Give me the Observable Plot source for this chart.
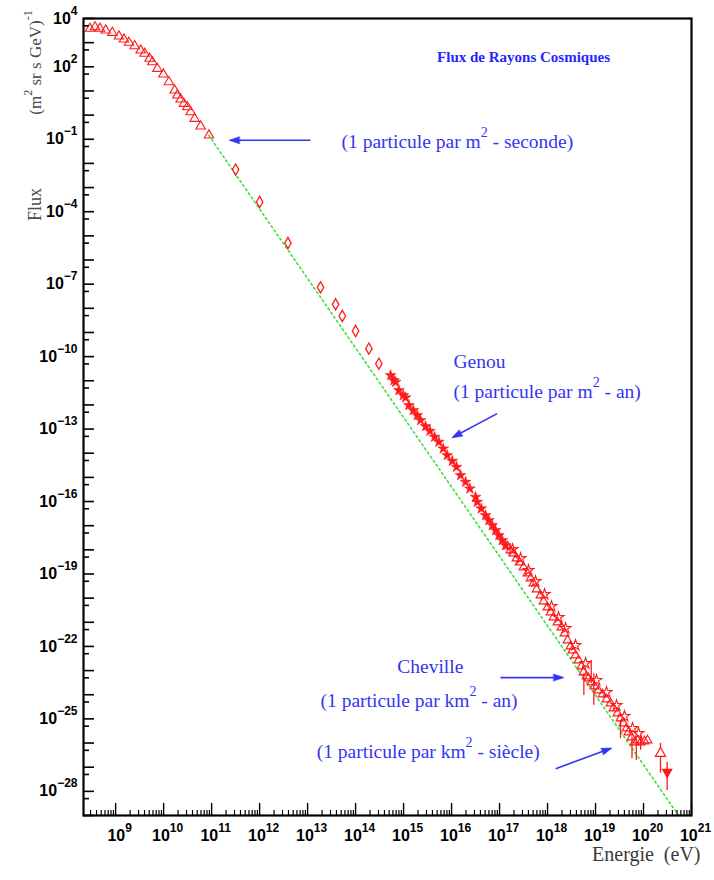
<!DOCTYPE html>
<html><head><meta charset="utf-8">
<script src="https://cdn.jsdelivr.net/npm/d3@7"></script>
<script src="https://cdn.jsdelivr.net/npm/@observablehq/plot@0.6"></script>
<style>
html,body{margin:0;padding:0;background:#fff;}
#chart svg{display:block;}
</style></head><body><div id="chart"></div>
<script>
// ---- data (log10 of energy in eV, log10 of flux) ----
const triLogE = [8.465, 8.569, 8.673, 8.792, 8.931, 9.069, 9.173, 9.277, 9.396, 9.521, 9.604, 9.708, 9.765, 9.869, 9.994, 10.110, 10.229, 10.285, 10.354, 10.423, 10.494, 10.563, 10.646, 10.771, 10.944];
const triLogF = [3.582, 3.648, 3.582, 3.511, 3.416, 3.263, 3.137, 3.002, 2.861, 2.683, 2.547, 2.340, 2.199, 1.925, 1.689, 1.371, 1.027, 0.820, 0.654, 0.476, 0.335, 0.128, -0.145, -0.464, -0.836];

const diaLogE = [11.5, 12.0, 12.59, 13.27, 13.583, 13.723, 14.0, 14.277, 14.485];
const diaLogF = [-2.257, -3.598, -5.296, -7.131, -7.834, -8.319, -8.94, -9.669, -10.29];

const starLogE = [14.729, 14.798, 14.833, 14.902, 14.994, 15.042, 15.110, 15.202, 15.285, 15.354, 15.458, 15.548, 15.646, 15.735, 15.827, 15.910, 16.015, 16.104, 16.188, 16.292, 16.381, 16.5, 16.535, 16.619, 16.708, 16.777, 16.848, 16.917, 16.985, 17.056, 17.125];
const starLogF = [-10.774, -10.981, -11.052, -11.395, -11.602, -11.698, -12.016, -12.224, -12.431, -12.638, -12.886, -13.081, -13.329, -13.536, -13.81, -14.087, -14.323, -14.571, -14.915, -15.193, -15.466, -15.814, -16.021, -16.294, -16.571, -16.778, -16.986, -17.193, -17.4, -17.607, -17.814];

const openTriLogE = [17.167, 17.229, 17.292, 17.354, 17.417, 17.5, 17.583, 17.646, 17.708, 17.771, 17.854, 17.917, 18.0, 18.063, 18.125, 18.208, 18.292, 18.354, 18.417, 18.479, 18.521, 18.583, 18.646, 18.708, 18.75, 18.813, 18.854, 18.917, 18.979, 19.063, 19.146, 19.229, 19.313, 19.375, 19.458, 19.521, 19.583, 19.646, 19.688, 19.75, 19.813, 19.875, 19.938, 20.021, 20.083];
const openTriLogF = [-17.855, -18.021, -18.145, -18.352, -18.518, -18.724, -18.973, -19.18, -19.387, -19.636, -19.884, -20.133, -20.381, -20.588, -20.795, -21.002, -21.209, -21.458, -21.747, -21.996, -22.161, -22.368, -22.576, -22.824, -23.072, -23.238, -23.321, -23.487, -23.652, -23.817, -23.983, -24.19, -24.356, -24.563, -24.77, -24.977, -25.184, -25.391, -25.557, -25.764, -25.971, -25.888, -25.971, -25.93, -25.888];

const openCircLogE = [17.271, 17.438, 17.604, 17.75, 17.938, 18.083, 18.229, 18.375, 18.583, 18.792, 19.021, 19.229, 19.438, 19.604, 19.771, 19.896];
const openCircLogF = [-17.98, -18.352, -18.849, -19.305, -19.843, -20.34, -20.795, -21.25, -21.95, -22.7, -23.40, -23.90, -24.44, -24.89, -25.39, -25.6];

const errLogE  = [18.757, 18.91, 18.965, 19.52, 19.76, 19.85, 19.94, 20.354, 20.493];
const errLogLo = [-24.03, -23.54, -24.44, -25.82, -26.65, -26.72, -26.3, -27.25, -27.96];
const errLogHi = [-23.13, -22.58, -23.13, -25.06, -25.75, -25.82, -25.68, -26.01, -26.79];

const hiTriLogE = [20.354];
const hiTriLogF = [-26.43];
const limitLogE = [20.493];
const limitLogF = [-27.2];

const fitLogE = [10.94, 20.73];
const fitLogF = [-0.84, -29];

const arrowLogE1 = [13.06, 16.95, 17.02, 18.17];
const arrowLogF1 = [-1.043, -12.36, -23.29, -27.06];
const arrowLogE2 = [11.40, 16.035, 18.306, 19.31];
const arrowLogF2 = [-1.043, -13.33, -23.29, -26.23];

const noteText = ["(1 particule par m^{2} - seconde)", "Genou", "(1 particule par m^{2} - an)", "Cheville", "(1 particule par km^{2} - an)", "(1 particule par km^{2} - siècle)"];
const noteLogE = [13.708, 16.04, 16.04, 14.869, 13.27, 13.19];
const noteLogF = [-1.09, -10.22, -11.47, -22.85, -24.24, -26.38];

const titleText = "Flux de Rayons Cosmiques";
const titleLogE = 17.5;
const titleLogF = 2.39;

const xLabelExps = [9, 10, 11, 12, 13, 14, 15, 16, 17, 18, 19, 20, 21];
const yLabelExps = [4, 2, -1, -4, -7, -10, -13, -16, -19, -22, -25, -28];
const yTitleMain = "Flux";
const yTitleUnit = "(m^{2} sr s GeV)^{-1}";
const xTitle = "Energie\u00a0\u00a0(eV)";

// ---- tables ----
const pts = (le, lf) => le.map((e, i) => ({E: 10 ** e, F: 10 ** lf[i]}));
const tri = pts(triLogE, triLogF);
const dia = pts(diaLogE, diaLogF);
const star = pts(starLogE, starLogF);
const openTri = pts(openTriLogE, openTriLogF);
const openCirc = pts(openCircLogE, openCircLogF);
const hiTri = pts(hiTriLogE, hiTriLogF);
const limit = pts(limitLogE, limitLogF);
const fit = pts(fitLogE, fitLogF);
const errs = errLogE.map((e, i) => ({E: 10 ** e, lo: 10 ** errLogLo[i], hi: 10 ** errLogHi[i]}));
const arrows = arrowLogE1.map((e, i) => ({x1: 10 ** e, y1: 10 ** arrowLogF1[i], x2: 10 ** arrowLogE2[i], y2: 10 ** arrowLogF2[i]}));
const notes = noteText.map((t, i) => ({t, E: 10 ** noteLogE[i], F: 10 ** noteLogF[i]}));

const xMajor = d3.range(9, 22).map(e => 10 ** e);
const xMinor = [];
for (let e = 8; e <= 20; e++) for (let m = 2; m <= 9; m++) { const v = m * 10 ** e; if (v > 10 ** 8.33 && v < 1e21) xMinor.push(v); }
const yMajor = d3.range(-29, 5).map(e => 10 ** e);
const yMinor = d3.range(-28, 5).map(e => 5 * 10 ** (e - 1));

const W = 714, H = 880, mL = 83, mR = 23, mT = 18, mB = 65;
const innerW = W - mL - mR, innerH = H - mT - mB;
const RED = "#ff1a1a", BLUE = "#3434f4";
const SANS = "Liberation Sans, Arial, Helvetica, sans-serif";
const SERIF = "Liberation Serif, Times New Roman, serif";

const triangleDown = {
  draw(context, size) {
    const y = -Math.sqrt(size / (Math.sqrt(3) * 3));
    context.moveTo(0, -y * 2);
    context.lineTo(-Math.sqrt(3) * y, y);
    context.lineTo(Math.sqrt(3) * y, y);
    context.closePath();
  }
};

const chart = Plot.plot({
  width: W, height: H,
  marginLeft: mL, marginRight: mR, marginTop: mT, marginBottom: mB,
  style: {background: "white", fontFamily: SANS},
  x: {type: "log", domain: [10 ** 8.33, 1e21], axis: null},
  y: {type: "log", domain: [1e-29, 1e4], axis: null},
  marks: [
    Plot.line(fit, {x: "E", y: "F", stroke: "#3fe03f", strokeWidth: 1.6, strokeDasharray: "2,3"}),
    Plot.ruleX(errs, {x: "E", y1: "lo", y2: "hi", stroke: RED, strokeWidth: 1.3}),
    Plot.dot(tri, {x: "E", y: "F", symbol: "triangle", r: 3.5, stroke: RED, fill: "none", strokeWidth: 1.1}),
    Plot.dot(dia, {x: "E", y: "F", symbol: "diamond", r: 3.4, stroke: RED, fill: "none", strokeWidth: 1.3}),
    Plot.dot(star, {x: "E", y: "F", symbol: "star", r: 3.4, stroke: RED, fill: RED, strokeWidth: 0.6}),
    Plot.dot(openTri, {x: "E", y: "F", symbol: "triangle", r: 3.3, stroke: RED, fill: "none", strokeWidth: 1.1}),
    Plot.dot(openCirc, {x: "E", y: "F", symbol: "star", r: 3.4, stroke: RED, fill: "none", strokeWidth: 1.1}),
    Plot.dot(hiTri, {x: "E", y: "F", symbol: "triangle", r: 3.8, stroke: RED, fill: "white", strokeWidth: 1.2}),
    Plot.dot(limit, {x: "E", y: "F", symbol: triangleDown, r: 3.2, stroke: RED, fill: RED}),
    // ticks
    Plot.tickY(yMajor, {y: d => d, insetRight: innerW - 11, stroke: "black", strokeWidth: 1.6}),
    Plot.tickY(yMinor, {y: d => d, insetRight: innerW - 6, stroke: "black", strokeWidth: 1.6}),
    Plot.tickX(xMajor, {x: d => d, insetTop: innerH - 12, stroke: "black", strokeWidth: 1.4}),
    Plot.tickX(xMinor, {x: d => d, insetTop: innerH - 5, stroke: "black", strokeWidth: 1.2}),
    Plot.frame({stroke: "black", strokeWidth: 2.2}),
    // tick labels
    Plot.text(xLabelExps, {x: d => 10 ** d, text: d => `10^{${d}}`, frameAnchor: "bottom", dy: 25, dx: 4, fontSize: 16, fontWeight: "bold", fill: "black", fontFamily: SANS}),
    Plot.text(yLabelExps, {y: d => 10 ** d, text: d => `10^{${String(d).replace("-", "\u2212")}}`, frameAnchor: "left", textAnchor: "end", dx: -6, fontSize: 16, fontWeight: "bold", fill: "black", fontFamily: SANS}),
    // axis titles
    Plot.text([xTitle], {frameAnchor: "bottom-right", textAnchor: "end", dx: 9, dy: 45, fontSize: 20, fill: "#3a3a3a", fontFamily: SERIF}),
    Plot.text([yTitleMain], {frameAnchor: "top-left", textAnchor: "middle", rotate: -90, dx: -55, dy: 186, fontSize: 18, fill: "#4a4a4a", fontFamily: SERIF}),
    Plot.text([yTitleUnit], {frameAnchor: "top-left", textAnchor: "middle", rotate: -90, dx: -55, dy: 44, fontSize: 17, fill: "#4a4a4a", fontFamily: SERIF}),
    // annotations
    Plot.link(arrows, {x1: "x1", y1: "y1", x2: "x2", y2: "y2", stroke: BLUE, strokeWidth: 1.6, markerEnd: "arrow"}),
    Plot.text(notes, {x: "E", y: "F", text: "t", textAnchor: "start", fontSize: 19.5, fill: BLUE, fontFamily: SERIF}),
    Plot.text([titleText], {x: () => 10 ** titleLogE, y: () => 10 ** titleLogF, textAnchor: "middle", fontSize: 15, fontWeight: "bold", fill: "#2525ff", fontFamily: SERIF})
  ]
});
document.getElementById("chart").appendChild(chart);

// filled arrow heads
d3.select(chart).selectAll("marker").each(function () {
  const col = this.getAttribute("stroke") || BLUE;
  this.setAttribute("overflow", "visible");
  this.setAttribute("fill", col);
  this.setAttribute("stroke-width", 0.5);
  d3.select(this).select("path").attr("d", "M-8,-3.3L1.5,0L-8,3.3Z");
});

// superscripts written as ^{...}
d3.select(chart).selectAll("text").each(function () {
  const t = this.textContent;
  if (!t.includes("^{")) return;
  const fs = parseFloat(getComputedStyle(this).fontSize) || 14;
  const rise = Math.round(fs * 0.55);
  const parts = t.split(/(\^\{[^}]*\})/).filter(s => s.length);
  this.textContent = "";
  let raised = false;
  for (const p of parts) {
    const ts = document.createElementNS("http://www.w3.org/2000/svg", "tspan");
    if (p.startsWith("^{")) {
      ts.textContent = p.slice(2, -1);
      ts.setAttribute("font-size", Math.round(fs * 0.72));
      ts.setAttribute("dy", -rise);
      raised = true;
    } else {
      ts.textContent = p;
      if (raised) { ts.setAttribute("dy", rise); raised = false; }
    }
    this.appendChild(ts);
  }
});
</script>
</body></html>
